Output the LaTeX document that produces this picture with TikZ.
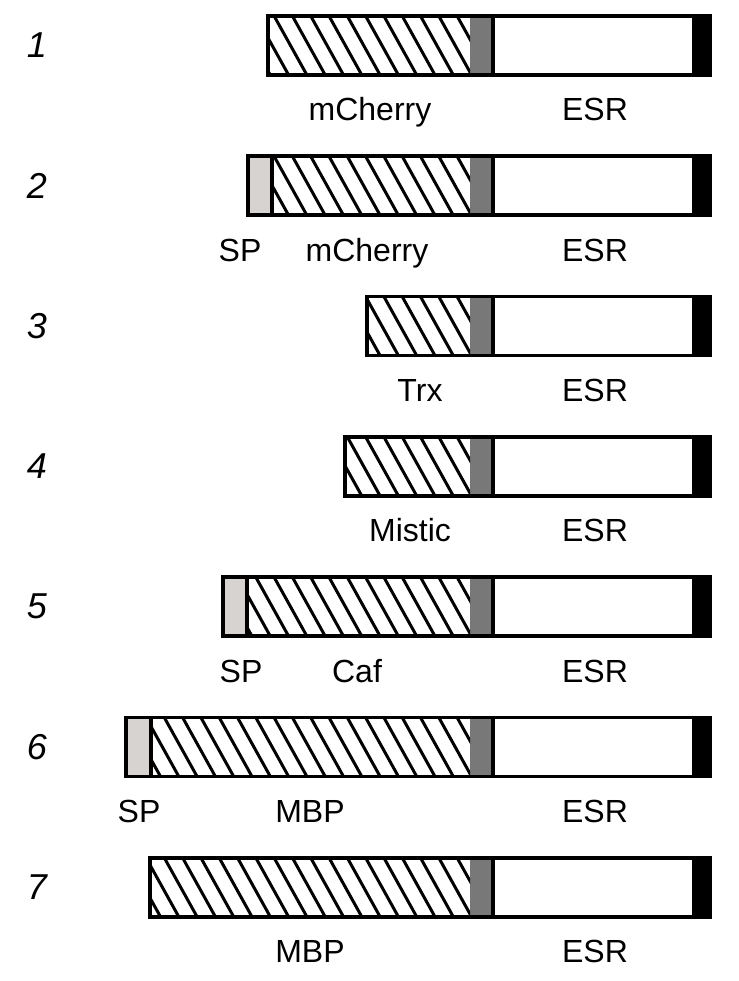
\documentclass[tikz,border=0pt]{standalone}
\usepackage{fontspec}
\setmainfont{Liberation Sans}
\usepackage{xcolor}
\usetikzlibrary{positioning}

\definecolor{spgray}{HTML}{D6D3D0}
\definecolor{lnkgray}{HTML}{787878}

\begin{document}
\begin{tikzpicture}[x=1pt,y=-1pt,
  outline/.style={line width=3.6pt,line join=miter},
  hatchline/.style={line width=3pt},
  lbl/.style={font=\fontsize{32}{36}\selectfont,inner sep=0pt,anchor=base},
  rownum/.style={font=\fontsize{36}{40}\selectfont\itshape,inner sep=0pt}]
\useasboundingbox (0,0) rectangle (738,981);
% row/left end/SP end/SP label x/protein/protein label x
\foreach \n/\xl/\sp/\spx/\prot/\px in {1/268/0/0/mCherry/370,
    2/248/272/240/mCherry/367, 3/367/0/0/Trx/420, 4/345/0/0/Mistic/410,
    5/223/247/241/Caf/357, 6/126/151/139/MBP/310, 7/150/0/0/MBP/310}{
  \pgfmathsetmacro\yt{16+140.3*(\n-1)}
  \pgfmathsetmacro\yb{\yt+59}
  \pgfmathsetmacro\ym{\yt+29.5}
  \pgfmathsetmacro\xh{\sp>0 ? \sp : \xl}
  % fills
  \ifnum\sp>0
    \fill[spgray] (\xl,\yt) rectangle (\sp,\yb);
  \fi
  \fill[lnkgray] (470,\yt) rectangle (493,\yb);
  \fill[black] (692,\yt) rectangle (710,\yb);
  \begin{scope}
    \clip (\xh,\yt) rectangle (470,\yb);
    \foreach \k in {0,...,19}
      \draw[hatchline] ({456-18.3*\k},\yt-2) -- ++(35,63);
  \end{scope}
  \draw[outline] (\xl,\yt) rectangle (710,\yb);
  \draw[outline] (493,\yt) -- (493,\yb);
  \ifnum\sp>0
    \draw[outline] (\sp,\yt) -- (\sp,\yb);
    \node[lbl] (sp\n) at (\spx,\yb+46) {SP};
  \fi
  \node[rownum] (num\n) at (37,\ym) {\n};
  \node[lbl] (prot\n) at (\px,\yb+46) {\prot};
  \node[lbl] (esr\n) at (595,\yb+46) {ESR};
}
\end{tikzpicture}
\end{document}
